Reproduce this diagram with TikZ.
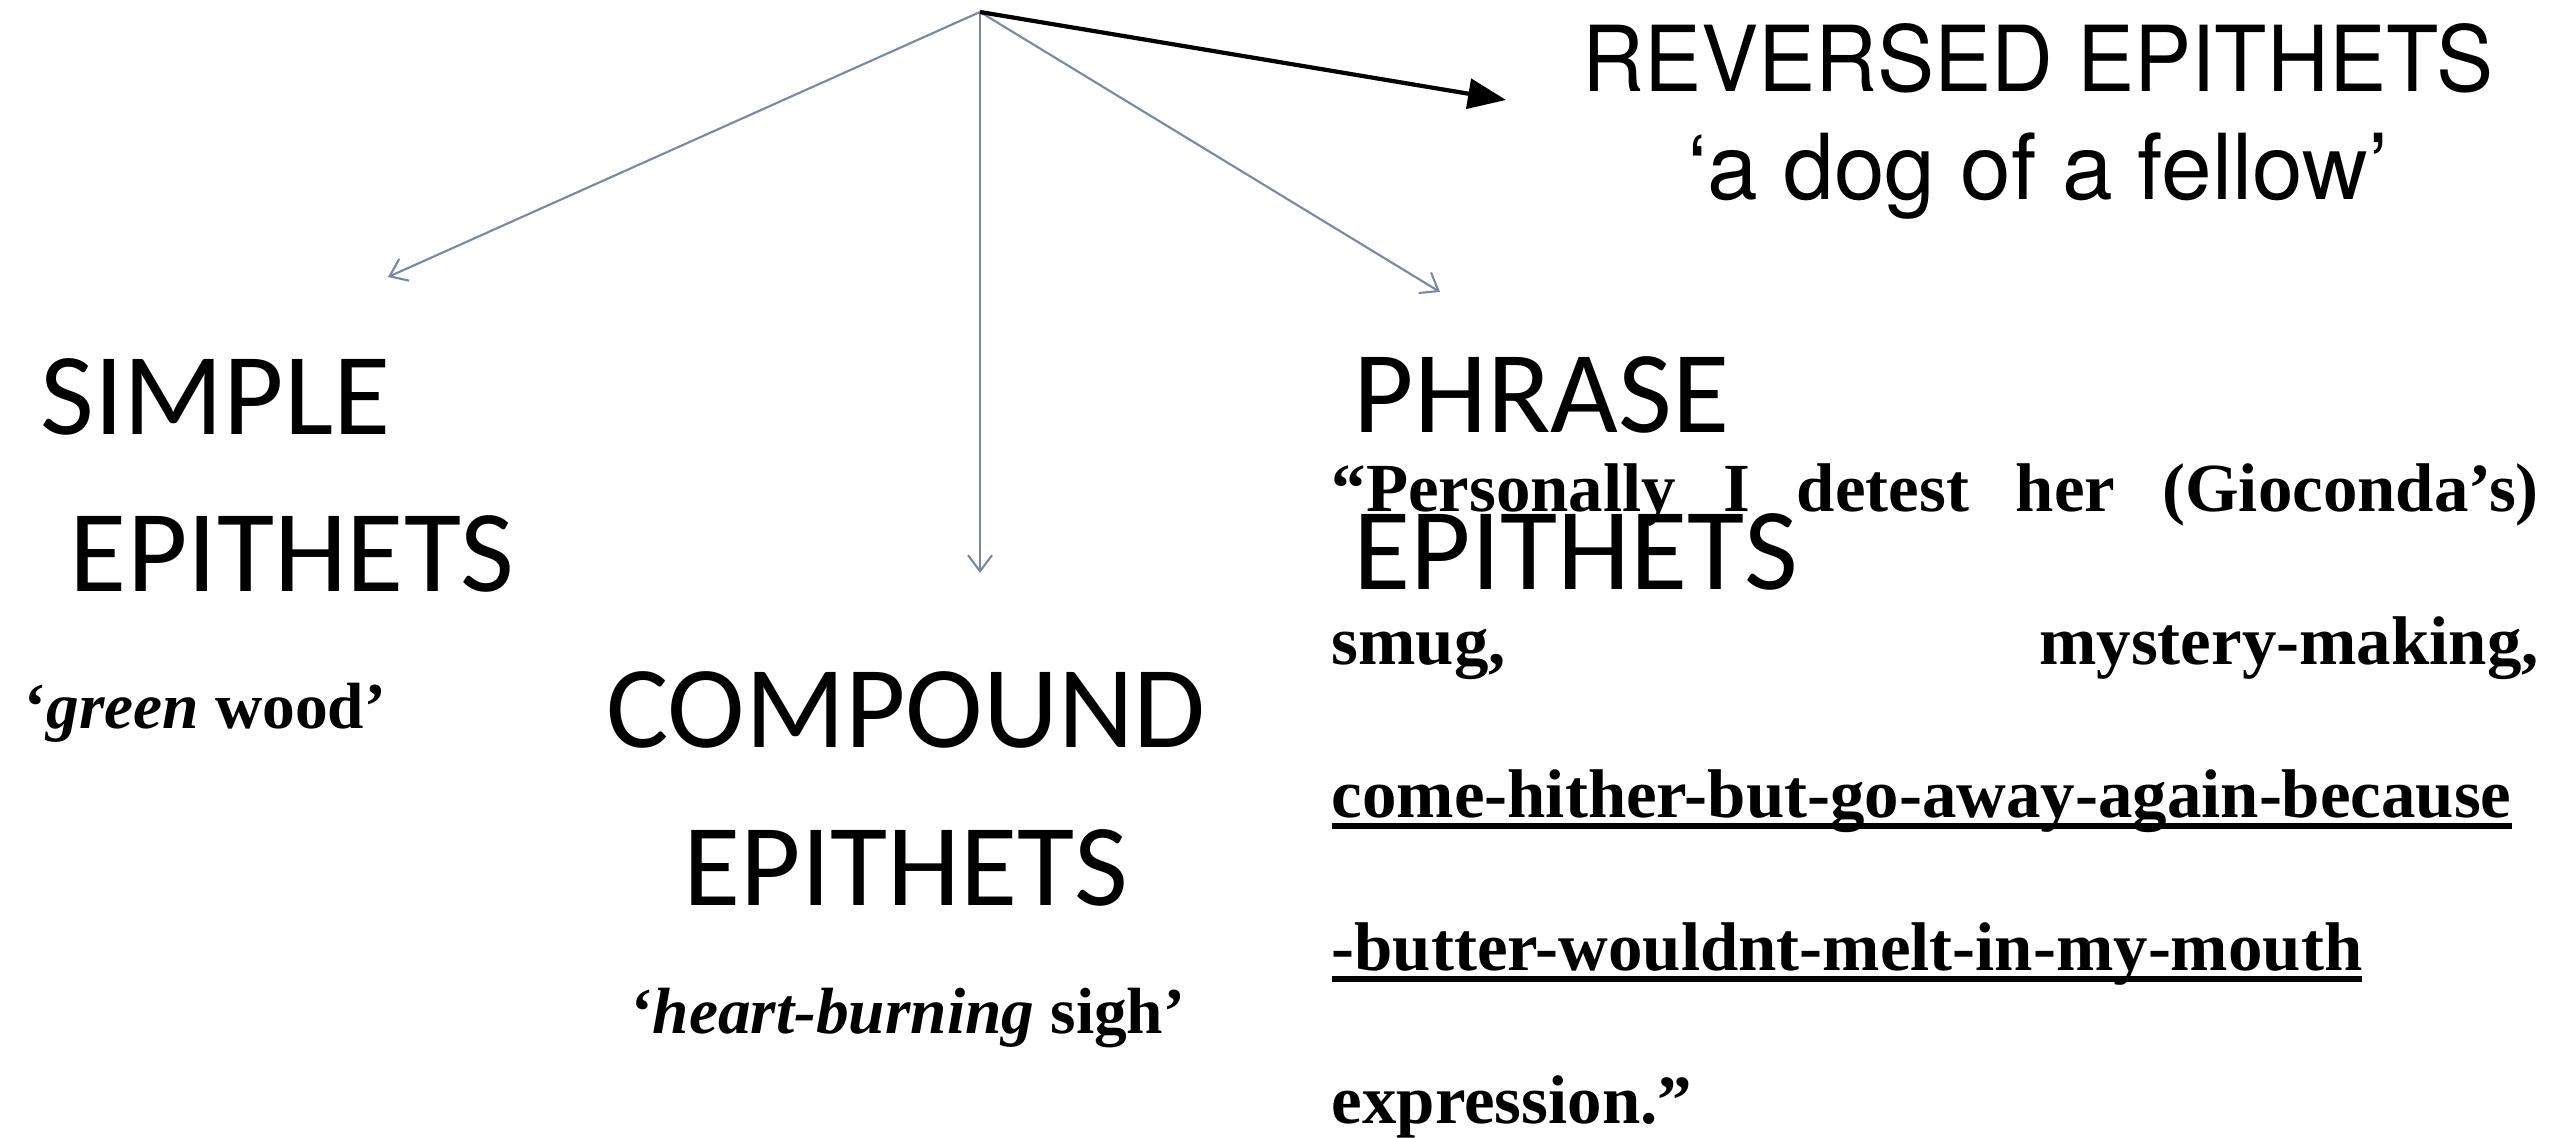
\documentclass[tikz,border=0pt]{standalone}
\usepackage{fontspec}
\setmainfont{Liberation Serif}
\newfontfamily\calibrifont{Carlito}
\newfontfamily\helvfont{TeX Gyre Heros}
\newfontfamily\helvnarrowfont[FakeStretch=0.94]{TeX Gyre Heros}
\usetikzlibrary{arrows.meta}
\definecolor{arrowgray}{RGB}{122,136,160}
\tolerance=10000
\hbadness=10000
\newsavebox\ulbox
\newcommand{\thickul}[1]{\sbox\ulbox{#1}\rlap{\rule[-0.16em]{\wd\ulbox}{0.08em}}\usebox\ulbox}

\begin{document}
\begin{tikzpicture}[
    kind/.style={font=\calibrifont\fontsize{33.3pt}{44.7pt}\selectfont, inner sep=0pt},
    example/.style={font=\bfseries\fontsize{18.6pt}{22pt}\selectfont, inner sep=0pt},
    branch/.style={-{Straight Barb[length=0.16cm, width=0.24cm]}, draw=arrowgray, line width=0.6pt},
  ]
    \useasboundingbox (0,0) rectangle (25.67,-11.38);

    % the three kinds and their examples (base = last line)
    \node[kind, anchor=base west, align=left] (simple) at (0.40,-5.92) {SIMPLE\\\hspace*{0.25em}EPITHETS};
    \node[kind, anchor=base, align=center] (compound) at (9.06,-9.05) {COMPOUND\\EPITHETS};
    \node[kind, anchor=base west, align=left] (phrase) at (13.53,-5.90) {PHRASE\\EPITHETS};
    \node[example, anchor=base west] (green) at (0.24,-7.28) {‘\textit{green} wood’};
    \node[example, anchor=base] (heart) at (9.08,-10.33) {‘\textit{heart-burning} sigh’};
    \node[anchor=base west, inner sep=0pt, text width=12.07cm, align=justify, font=\bfseries\fontsize{19.6pt}{43.5pt}\selectfont] (quote) at (13.31,-5.12)
      {“Personally I detest her (Gioconda’s)\linebreak smug, \mbox{mystery-making,}\linebreak \thickul{come-hither-but-go-away-again-because}\newline \thickul{-butter-wouldnt-melt-in-my-mouth}\newline expression.”};
    \node[anchor=base, inner sep=0pt, align=center, font=\helvfont\fontsize{25.9pt}{31pt}\selectfont] (reversed) at (20.38,-2.00)
      {{\helvnarrowfont REVERSED EPITHETS}\\‘a dog of a fellow’};

    % arrows
    \coordinate (top) at (9.80,-0.12);
    \coordinate (simpletip) at (3.88,-2.77);
    \coordinate (compoundtip) at (9.80,-5.73);
    \coordinate (phrasetip) at (14.40,-2.92);
    \coordinate (reversedtip) at (15.06,-1.00);
    \draw[branch] (top) -- (simpletip);
    \draw[branch] (top) -- (compoundtip);
    \draw[branch] (top) -- (phrasetip);
    \draw[-{Triangle[length=0.38cm, width=0.30cm]}, line width=1.2pt] (top) -- (reversedtip);
\end{tikzpicture}
\end{document}
